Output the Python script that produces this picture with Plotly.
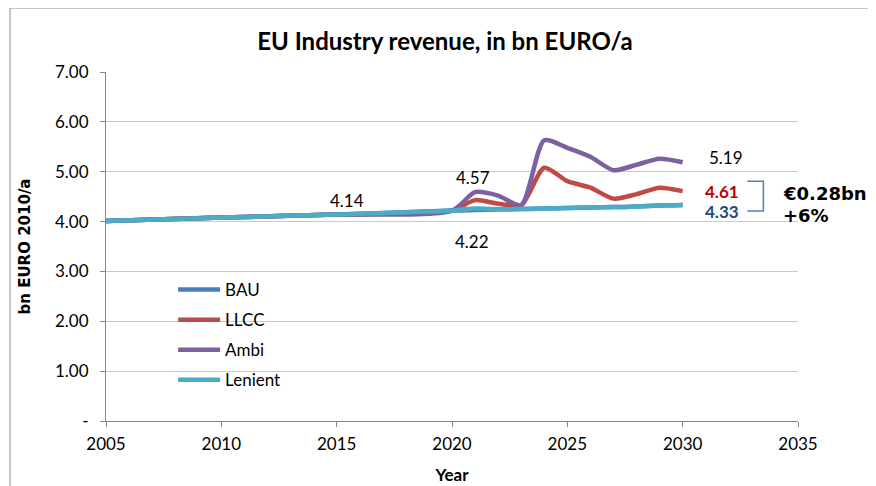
import plotly.graph_objects as go

years = [2005, 2010, 2015, 2020, 2021, 2022, 2023, 2024, 2025, 2026, 2027, 2028, 2029, 2030]
bau = [4.01, 4.08, 4.14, 4.22, 4.23, 4.24, 4.25, 4.26, 4.27, 4.28, 4.29, 4.30, 4.32, 4.33]
llcc = [4.01, 4.08, 4.14, 4.22, 4.43, 4.36, 4.33, 5.08, 4.81, 4.68, 4.46, 4.55, 4.68, 4.61]
ambi = [4.01, 4.08, 4.14, 4.22, 4.59, 4.52, 4.33, 5.63, 5.48, 5.30, 5.03, 5.14, 5.26, 5.19]
lenient = [4.01, 4.08, 4.14, 4.22, 4.26, 4.25, 4.25, 4.26, 4.27, 4.28, 4.29, 4.30, 4.32, 4.33]

series_names = ["BAU", "LLCC", "Ambi", "Lenient"]
series_values = [bau, llcc, ambi, lenient]
series_colors = ["#4a7ebb", "#be4b48", "#7d60a0", "#4bacc6"]

y_tickvals = [0, 1, 2, 3, 4, 5, 6, 7]
y_ticktext = ["-", "1.00", "2.00", "3.00", "4.00", "5.00", "6.00", "7.00"]
x_tickvals = [2005, 2010, 2015, 2020, 2025, 2030, 2035]

FONT = "Lato"
W, H = 868, 478
OFF = 8  # page body margin

fig = go.Figure()
for name, vals, col in zip(series_names, series_values, series_colors):
    fig.add_trace(go.Scatter(
        x=years, y=vals, name=name, mode="lines", legendgroup=name,
        line=dict(color=col, width=4.5, shape="spline", smoothing=0.7),
        hoverinfo="skip",
    ))

ann = []
def label(x, y, text, color="black", bold=False, size=17, xref="x", yref="y", xanchor="center"):
    ann.append(dict(x=x, y=y, xref=xref, yref=yref, text=("<b>%s</b>" % text) if bold else text,
                    showarrow=False, xanchor=xanchor, yanchor="middle",
                    font=dict(family=FONT, size=size, color=color)))

label(2015.45, 4.43, "4.14")
label(2020.9, 4.89, "4.57")
label(2020.87, 3.61, "4.22")
label(2031.9, 5.29, "5.19")
label(2031.7, 4.61, "4.61", color="#c00000", bold=True)
label(2031.7, 4.21, "4.33", color="#1f497d", bold=True)

ann.append(dict(x=0.976, y=0.653, xref="paper", yref="paper", text="<b>€0.28bn</b>",
                showarrow=False, xanchor="left", yanchor="middle",
                font=dict(family="DejaVu Sans", size=18, color="black")))
ann.append(dict(x=0.976, y=0.590, xref="paper", yref="paper", text="<b>+6%</b>",
                showarrow=False, xanchor="left", yanchor="middle",
                font=dict(family="DejaVu Sans", size=18, color="black")))

border_left = -96 / 692
border_top = 1 + 64 / 349
border_right = (W - (106 - OFF) + 20) / 692
shapes = [
    dict(type="path", xref="x", yref="y",
         path="M 2032.8,4.81 L 2033.5,4.81 L 2033.5,4.21 L 2032.8,4.21",
         line=dict(color="#4f81bd", width=1.5)),
    dict(type="line", xref="paper", yref="paper", x0=border_left, x1=border_right,
         y0=border_top, y1=border_top, line=dict(color="#8c8c8c", width=1), layer="below"),
    dict(type="line", xref="paper", yref="paper", x0=border_left, x1=border_left, y0=-0.3, y1=border_top,
         line=dict(color="#8c8c8c", width=1), layer="below"),
]

fig.update_layout(
    width=W, height=H,
    margin=dict(l=106 - OFF, r=78, t=72 - OFF, b=65, autoexpand=False),
    paper_bgcolor="white", plot_bgcolor="white",
    font=dict(family=FONT, size=17, color="black"),
    title=dict(text="<b>EU Industry revenue, in bn EURO/a</b>", x=(445 - OFF) / W, xanchor="center",
               y=1 - (42 - OFF) / H, yanchor="middle", font=dict(family=FONT, size=24, color="black")),
    xaxis=dict(range=[2005, 2035], tickvals=x_tickvals, showgrid=False, zeroline=False,
               showline=True, linecolor="#868686", linewidth=1, ticks="outside", ticklen=5,
               tickcolor="#868686", tickfont=dict(family=FONT, size=17), ticklabelstandoff=3,
               title=dict(text="<b>Year</b>", font=dict(family=FONT, size=17), standoff=15)),
    yaxis=dict(range=[0, 7], tickvals=y_tickvals, ticktext=y_ticktext, showgrid=True,
               gridcolor="#b9cde5", gridwidth=1, zeroline=False,
               showline=True, linecolor="#868686", linewidth=1, ticks="outside", ticklen=5,
               tickcolor="#868686", tickfont=dict(family=FONT, size=17), ticklabelstandoff=8,
               title=dict(text="<b>bn EURO 2010/a</b>", font=dict(family="DejaVu Sans", size=15),
                          standoff=20)),
    legend=dict(x=0.097, y=0.427, xanchor="left", yanchor="top", bgcolor="rgba(0,0,0,0)",
                font=dict(family=FONT, size=17), tracegroupgap=5, traceorder="grouped",
                itemwidth=42),
    annotations=ann, shapes=shapes,
    showlegend=True,
)

fig.write_html("out.html")
